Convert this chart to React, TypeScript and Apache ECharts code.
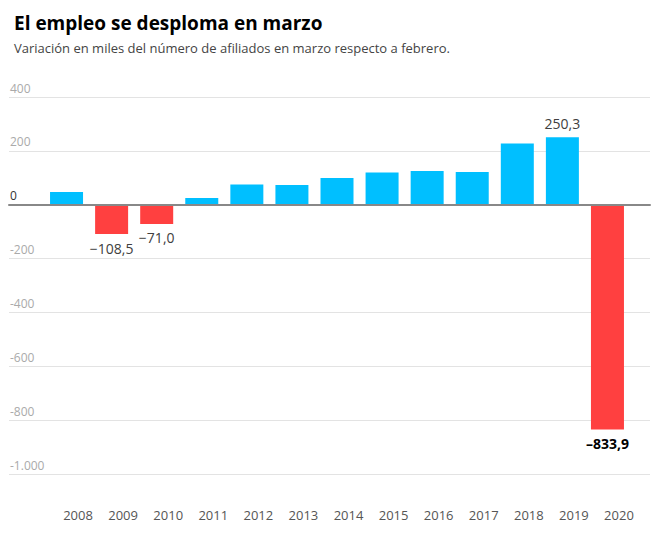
import React, { useEffect, useRef } from "react";
import * as echarts from "echarts";

const years = ["2008", "2009", "2010", "2011", "2012", "2013", "2014", "2015", "2016", "2017", "2018", "2019", "2020"];
const values = [47.5, -108.5, -71.0, 25, 75, 73.5, 99.5, 119.6, 125.5, 122, 227, 250.3, -833.9];
const labeledYears = ["2009", "2010", "2019", "2020"];
const boldYears = ["2020"];
const yMin = -1000;
const yMax = 400;
const yStep = 200;

const FONT = "'Open Sans', 'Noto Sans', sans-serif";
const BLUE = "#00BFFF";
const RED = "#FF4040";

function fmtAxis(v: number): string {
  const s = Math.abs(v).toString().replace(/\B(?=(\d{3})+(?!\d))/g, ".");
  return (v < 0 ? "-" : "") + s;
}
function fmtLabel(v: number, bold: boolean): string {
  const s = Math.abs(v).toFixed(1).replace(".", ",");
  return (v < 0 ? (bold ? "\u2013" : "\u2212") : "") + s;
}

export default function App() {
  const ref = useRef<HTMLDivElement>(null);
  useEffect(() => {
    if (!ref.current) return;
    const chart = echarts.init(ref.current, null, { renderer: "svg" });
    const gridTop = 97;
    const gridBottom = 535 - 474.3;
    const data = values.map((v, i) => {
      const y = years[i];
      const show = labeledYears.includes(y);
      const bold = boldYears.includes(y);
      return {
        value: v,
        itemStyle: { color: v < 0 ? RED : BLUE },
        label: {
          show,
          position: v < 0 ? "bottom" : "top",
          distance: 7,
          fontFamily: FONT,
          fontSize: 14,
          fontWeight: bold ? "bold" : "normal",
          color: bold ? "#000" : "#404040",
          formatter: () => fmtLabel(v, bold),
        },
      };
    });
    chart.setOption({
      animation: false,
      title: [
        {
          text: "El empleo se desploma en marzo",
          left: 9,
          top: 8,
          textStyle: { fontFamily: FONT, fontSize: 19, fontWeight: "bold", color: "#000" },
        },
        {
          text: "Variación en miles del número de afiliados en marzo respecto a febrero.",
          left: 9,
          top: 36,
          textStyle: { fontFamily: FONT, fontSize: 13, fontWeight: "normal", color: "#444" },
        },
      ],
      grid: [
        { left: 9, right: 12, top: gridTop, bottom: gridBottom },
        { left: 44, right: 32, top: gridTop, bottom: gridBottom },
      ],
      xAxis: [
        {
          type: "category",
          gridIndex: 0,
          data: years,
          z: 5,
          axisLine: { show: true, onZero: true, lineStyle: { color: "#888", width: 2 } },
          axisTick: { show: false },
          axisLabel: { show: false },
        },
        {
          type: "category",
          gridIndex: 1,
          data: years,
          axisLine: { show: false },
          axisTick: { show: false },
          axisLabel: {
            margin: 34,
            fontFamily: FONT,
            fontSize: 13,
            color: "#555",
            padding: [0, 0, 0, 23],
          },
        },
      ],
      yAxis: [
        {
          type: "value",
          gridIndex: 0,
          min: yMin,
          max: yMax,
          interval: yStep,
          axisLine: { show: false },
          axisTick: { show: false },
          splitLine: { show: true, lineStyle: { color: "#e3e3e3", width: 1 } },
          axisLabel: {
            inside: true,
            margin: 1,
            verticalAlign: "bottom",
            padding: [0, 0, 3, 0],
            fontFamily: FONT,
            fontSize: 12,
            color: (v: any) => (Number(v) === 0 ? "#333" : "#aaa"),
            formatter: (v: number) => fmtAxis(v),
          },
        },
        {
          type: "value",
          gridIndex: 1,
          min: yMin,
          max: yMax,
          interval: yStep,
          show: false,
          splitLine: { show: false },
        },
      ],
      series: [
        {
          type: "bar",
          xAxisIndex: 1,
          yAxisIndex: 1,
          barWidth: 33,
          data,
        },
      ],
    });
    return () => chart.dispose();
  }, []);
  return <div ref={ref} style={{ width: 662, height: 535, position: "absolute", left: 0, top: 0, background: "#fff" }} />;
}
